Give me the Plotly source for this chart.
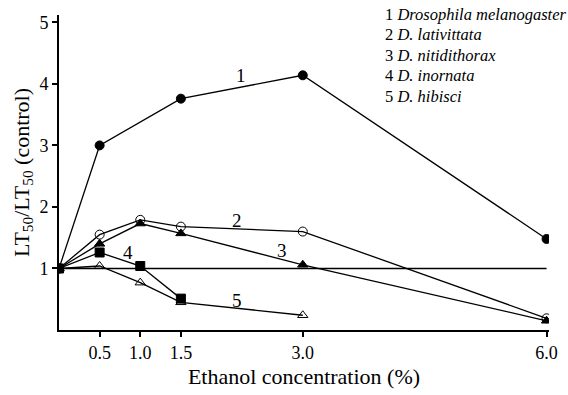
import plotly.graph_objects as go

# Ethanol concentration (%) and LT50 ratio for each species
conc = [0, 0.5, 1.0, 1.5, 3.0, 6.0]
melanogaster = [1, 3.0, None, 3.76, 4.14, 1.48]
lativittata = [1, 1.55, 1.79, 1.68, 1.60, 0.19]
nitidithorax = [1, 1.40, 1.73, 1.57, 1.06, 0.15]
inornata = [1, 1.26, 1.04, 0.51]
hibisci = [1, 1.04, 0.77, 0.45, 0.24]

x_ticks = [0.5, 1.0, 1.5, 3.0, 6.0]
x_tick_text = ["0.5", "1.0", "1.5", "3.0", "6.0"]
y_ticks = [1, 2, 3, 4, 5]

curve_labels = ["1", "2", "3", "4", "5"]
curve_label_x = [2.24, 2.19, 2.75, 0.85, 2.19]
curve_label_y = [4.13, 1.78, 1.29, 1.26, 0.48]

legend_lines = [
    "1 <i>Drosophila melanogaster</i>",
    "2 <i>D. lativittata</i>",
    "3 <i>D. nitidithorax</i>",
    "4 <i>D. inornata</i>",
    "5 <i>D. hibisci</i>",
]

FONT = "Liberation Serif"
fig = go.Figure()

# control reference line
fig.add_trace(go.Scatter(x=[0, 6.0], y=[1, 1], mode="lines",
                         line=dict(color="black", width=1.5), hoverinfo="skip"))

def series(xs, ys, symbol):
    pts = [(a, b) for a, b in zip(xs, ys) if b is not None]
    fig.add_trace(go.Scatter(
        x=[p[0] for p in pts], y=[p[1] for p in pts], mode="lines+markers",
        line=dict(color="black", width=1.3),
        marker=dict(symbol=symbol, size=9, color="black",
                    line=dict(color="black", width=1)),
    ))

series(conc, melanogaster, "circle")
series(conc, lativittata, "circle-open")
series(conc, nitidithorax, "triangle-up")
series(conc[:4], inornata, "square")
series(conc[:5], hibisci, "triangle-up-open")

# curve numbers
for txt, x, y in zip(curve_labels, curve_label_x, curve_label_y):
    fig.add_annotation(x=x, y=y, text=txt, showarrow=False,
                       font=dict(size=19, color="black", family=FONT))

# species key, one line per annotation for tight spacing
for i, line in enumerate(legend_lines):
    fig.add_annotation(x=0, y=1, xref="paper", yref="paper", xanchor="left", yanchor="middle",
                       xshift=324, yshift=1 - 20.5 * i, align="left", showarrow=False,
                       text=line, font=dict(size=16.5, color="black", family=FONT))

fig.update_layout(
    width=568, height=395, margin=dict(l=59, r=10, t=15, b=64),
    paper_bgcolor="white", plot_bgcolor="white", showlegend=False,
    font=dict(family=FONT, color="black", size=18),
)
fig.update_xaxes(range=[0, 6.03], tickvals=x_ticks, ticktext=x_tick_text,
                 ticks="outside", ticklen=5, tickwidth=1.5, tickcolor="black",
                 tickfont=dict(family=FONT, size=18, color="black"),
                 showline=True, linecolor="black", linewidth=1.8, showgrid=False,
                 zeroline=False, title=dict(text="Ethanol concentration (%)",
                                           font=dict(family=FONT, size=22, color="black"),
                                           standoff=7))
fig.update_yaxes(range=[0, 5.12], tickvals=y_ticks,
                 ticks="outside", ticklen=5, tickwidth=1.5, tickcolor="black",
                 tickfont=dict(family=FONT, size=18, color="black"),
                 showline=True, linecolor="black", linewidth=1.8, showgrid=False,
                 zeroline=False, title=dict(text="LT<sub>50</sub>/LT<sub>50</sub> (control)",
                                           font=dict(family=FONT, size=22, color="black"),
                                           standoff=4))

fig.write_html("out.html")
